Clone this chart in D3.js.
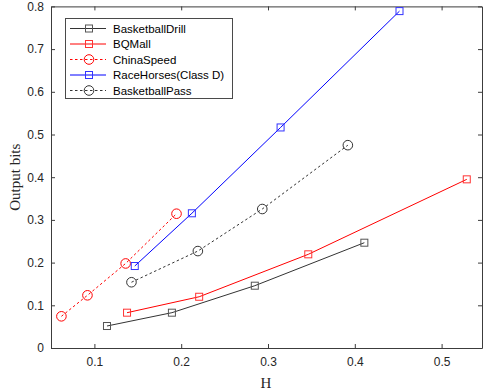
<!DOCTYPE html>
<html><head><meta charset="utf-8">
<script src="https://cdn.jsdelivr.net/npm/d3@7"></script>
<style>body{margin:0;background:#fff}svg{display:block}</style>
</head><body>
<svg id="c" width="483" height="392"></svg>
<script>
const seriesNames = ["BasketballDrill","BQMall","ChinaSpeed","RaceHorses(Class D)","BasketballPass"];
const basketballDrillH = [0.1145,0.1893,0.2848,0.411];
const basketballDrillBits = [0.0515,0.0827,0.1459,0.2466];
const bqMallH = [0.1376,0.2207,0.3464,0.529];
const bqMallBits = [0.0827,0.120,0.2194,0.395];
const chinaSpeedH = [0.062,0.092,0.136,0.1946];
const chinaSpeedBits = [0.0742,0.1234,0.198,0.3145];
const raceHorsesH = [0.1465,0.2123,0.3145,0.4515];
const raceHorsesBits = [0.192,0.3155,0.5165,0.789];
const basketballPassH = [0.1427,0.2192,0.2934,0.392];
const basketballPassBits = [0.154,0.227,0.3255,0.475];
const xTicks = [0.1,0.2,0.3,0.4,0.5];
const yTicks = [0,0.1,0.2,0.3,0.4,0.5,0.6,0.7,0.8];

const styles = [
  {color:"#333333", mcolor:"#555555", dash:null, marker:"square"},
  {color:"#ff0000", mcolor:"#ff3333", dash:null, marker:"square"},
  {color:"#ff0000", mcolor:"#ff0000", dash:"2.5,2.5", marker:"circle"},
  {color:"#0000ff", mcolor:"#3333ff", dash:null, marker:"square"},
  {color:"#333333", mcolor:"#333333", dash:"2.5,2.5", marker:"circle"}
];
const data = [
  [basketballDrillH, basketballDrillBits],
  [bqMallH, bqMallBits],
  [chinaSpeedH, chinaSpeedBits],
  [raceHorsesH, raceHorsesBits],
  [basketballPassH, basketballPassBits]
].map((d,i)=>({name:seriesNames[i], pts:d[0].map((h,j)=>[h,d[1][j]]), style:styles[i]}));

const L=51, R=482, T=6.4, B=348;
const x = d3.scaleLinear().domain([0.05, 0.05 + (R-L)/868]).range([L,R]);
const y = d3.scaleLinear().domain([0,0.8]).range([B,T]);
const svg = d3.select("#c");
const axisColor = "#3c3c3c";
const font = "'Liberation Sans', Arial, sans-serif";

const gx = svg.append("g").attr("transform",`translate(0,${B})`)
  .call(d3.axisBottom(x).tickValues(xTicks).tickSizeInner(-4).tickSizeOuter(0).tickPadding(9).tickFormat(d3.format(".1f")));
const gxt = svg.append("g").attr("transform",`translate(0,${T})`)
  .call(d3.axisTop(x).tickValues(xTicks).tickSizeInner(-4).tickSizeOuter(0).tickFormat(""));
const gy = svg.append("g").attr("transform",`translate(${L},0)`)
  .call(d3.axisLeft(y).tickValues(yTicks).tickSizeInner(-4).tickSizeOuter(0).tickPadding(7).tickFormat(d=>d===0?"0":d3.format(".1f")(d)));
const gyr = svg.append("g").attr("transform",`translate(${R},0)`)
  .call(d3.axisRight(y).tickValues(yTicks).tickSizeInner(-4).tickSizeOuter(0).tickFormat(""));
[gx,gxt,gy,gyr].forEach(g=>{
  g.selectAll("path,line").attr("stroke",axisColor).attr("stroke-width",1);
  g.selectAll("text").attr("fill","#262626").style("font-family",font).style("font-size","12px");
});

const line = d3.line().x(d=>x(d[0])).y(d=>y(d[1]));
function drawMarker(g, cx, cy, s, type){
  if(type==="square"){
    g.append("rect").attr("x",cx-3.5).attr("y",cy-3.5).attr("width",7).attr("height",7)
      .attr("fill","none").attr("stroke",s.mcolor).attr("stroke-width",1);
  } else {
    g.append("circle").attr("cx",cx).attr("cy",cy).attr("r",4.8)
      .attr("fill","none").attr("stroke",s.mcolor).attr("stroke-width",1);
  }
}
data.forEach(s=>{
  const g = svg.append("g");
  g.append("path").attr("d",line(s.pts)).attr("fill","none").attr("stroke",s.style.color)
    .attr("stroke-width",1).attr("stroke-dasharray",s.style.dash);
  s.pts.forEach(p=>drawMarker(g, x(p[0]), y(p[1]), s.style, s.style.marker));
});

const lg = svg.append("g");
lg.append("rect").attr("x",65.5).attr("y",18.5).attr("width",167).attr("height",80)
  .attr("fill","#fff").attr("stroke","#4a4a4a").attr("stroke-width",1);
data.forEach((s,i)=>{
  const yy = 28.5 + i*15.5;
  lg.append("line").attr("x1",70).attr("x2",106).attr("y1",yy).attr("y2",yy)
    .attr("stroke",s.style.color).attr("stroke-width",1).attr("stroke-dasharray",s.style.dash);
  drawMarker(lg, 89, yy, s.style, s.style.marker);
  lg.append("text").attr("x",113).attr("y",yy+4).text(s.name)
    .attr("fill","#000").style("font-family",font).style("font-size","11.5px");
});

svg.append("text").attr("x",(L+R)/2 - 0.5).attr("y",388).attr("text-anchor","middle")
  .style("font-family","'Liberation Serif','Times New Roman',serif").style("font-size","15px").attr("fill","#262626").text("H");
svg.append("text").attr("transform",`translate(20,${(T+B)/2}) rotate(-90)`).attr("text-anchor","middle")
  .style("font-family","'Liberation Serif','Times New Roman',serif").style("font-size","15px").attr("fill","#262626").text("Output bits");
</script>
</body></html>
